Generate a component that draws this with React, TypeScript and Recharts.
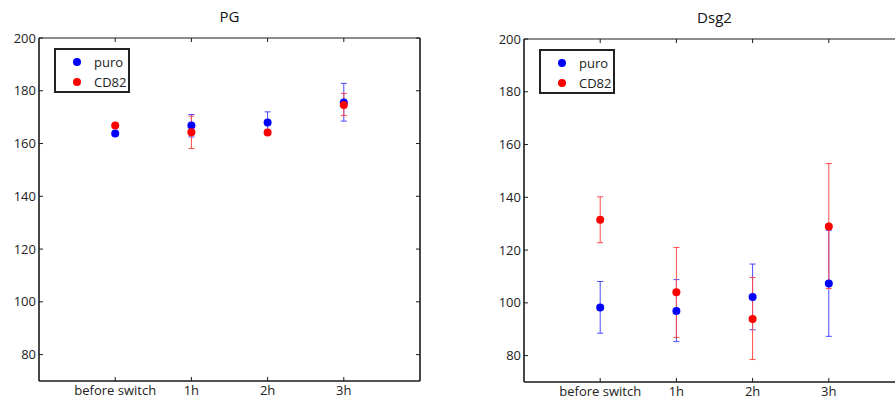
import React from 'react';
import { ScatterChart, Scatter, XAxis, YAxis, ErrorBar } from 'recharts';

// categories on the x axis and y ticks shared by both panels
const categories = ['before switch', '1h', '2h', '3h'];
const yTicks = [80, 100, 120, 140, 160, 180, 200];
const seriesNames = ['puro', 'CD82'];
const seriesColors = ['#0000ff', '#ff0000'];
const errColors = ['#4a4aff', '#ff4a4a'];

// PG panel
const pgPuro = [163.8, 166.8, 168.0, 175.6];
const pgPuroLow = [163.4, 162.5, 164.0, 168.5];
const pgPuroHigh = [164.2, 171.0, 172.0, 182.8];
const pgCd82 = [166.8, 164.3, 164.2, 174.6];
const pgCd82Low = [166.4, 158.1, 163.5, 170.6];
const pgCd82High = [167.2, 170.4, 165.0, 179.0];

// Dsg2 panel
const dsgPuro = [98.2, 96.9, 102.2, 107.3];
const dsgPuroLow = [88.5, 85.3, 89.8, 87.3];
const dsgPuroHigh = [108.1, 108.8, 114.7, 127.5];
const dsgCd82 = [131.5, 104.0, 93.9, 128.9];
const dsgCd82Low = [122.8, 86.9, 78.5, 105.4];
const dsgCd82High = [140.2, 121.0, 109.6, 152.8];

const FONT = '"Open Sans", sans-serif';
const AXIS = '#1a1a1a';
const TICK_FS = 13;

const toRows = (vals: number[], low: number[], high: number[]) =>
  vals.map((v, i) => ({ x: i + 1, y: v, err: [v - low[i], high[i] - v] }));

const BottomTick = (props: any) => {
  const { x, y, payload } = props;
  return (
    <g>
      <line x1={x} y1={y} x2={x} y2={y - 4} stroke={AXIS} strokeWidth={1} />
      <text x={x} y={y + 14} textAnchor="middle" fontSize={TICK_FS} fontFamily={FONT} fill="#222">
        {categories[payload.value - 1]}
      </text>
    </g>
  );
};

const TopTick = (props: any) => {
  const { x, y } = props;
  return <line x1={x} y1={y} x2={x} y2={y + 4} stroke={AXIS} strokeWidth={1} />;
};

const LeftTick = (props: any) => {
  const { x, y, payload } = props;
  return (
    <g>
      <line x1={x} y1={y} x2={x + 4} y2={y} stroke={AXIS} strokeWidth={1} />
      <text x={x - 3} y={y + 4.5} textAnchor="end" fontSize={TICK_FS} fontFamily={FONT} fill="#222">
        {payload.value}
      </text>
    </g>
  );
};

const RightTick = (props: any) => {
  const { x, y } = props;
  return <line x1={x} y1={y} x2={x - 4} y2={y} stroke={AXIS} strokeWidth={1} />;
};

const LegendBox = ({ left, top }: { left: number; top: number }) => (
  <div
    style={{
      position: 'absolute',
      left,
      top,
      width: 76,
      height: 45,
      boxSizing: 'border-box',
      border: '2px solid #222',
      background: '#fff',
      fontFamily: FONT,
      fontSize: TICK_FS,
      color: '#222',
      paddingTop: 2,
    }}
  >
    {seriesNames.map((name, i) => (
      <div key={name} style={{ display: 'flex', alignItems: 'center', height: 20 }}>
        <span
          style={{
            display: 'inline-block',
            width: 8,
            height: 8,
            borderRadius: 4,
            background: seriesColors[i],
            marginLeft: 17,
            marginRight: 13,
          }}
        />
        {name}
      </div>
    ))}
  </div>
);

interface PanelProps {
  title: string;
  left: number;
  top: number;
  bottom: number;
  puro: ReturnType<typeof toRows>;
  cd82: ReturnType<typeof toRows>;
}

const Panel: React.FC<PanelProps> = ({ title, left, top, bottom, puro, cd82 }) => (
  <div style={{ position: 'absolute', left, top: 0, width: 450, height: 404 }}>
    <div
      style={{
        position: 'absolute',
        left: 39,
        width: 381,
        top: top - 32,
        textAlign: 'center',
        fontFamily: FONT,
        fontSize: 15,
        color: '#111',
      }}
    >
      {title}
    </div>
    <ScatterChart width={450} height={404} margin={{ top: top - 1, right: 29, bottom: 0, left: 0 }}>
      <XAxis
        xAxisId="b"
        dataKey="x"
        type="number"
        domain={[0, 5]}
        ticks={[1, 2, 3, 4]}
        height={404 - bottom}
        tickSize={0}
        tickMargin={0}
        tickLine={false}
        tick={<BottomTick />}
        axisLine={{ stroke: AXIS, strokeWidth: 1.6 }}
        allowDataOverflow
      />
      <XAxis
        xAxisId="t"
        dataKey="x"
        orientation="top"
        type="number"
        domain={[0, 5]}
        ticks={[1, 2, 3, 4]}
        height={1}
        tickSize={0}
        tickMargin={0}
        tickLine={false}
        tick={<TopTick />}
        axisLine={{ stroke: AXIS, strokeWidth: 1.2 }}
        allowDataOverflow
      />
      <YAxis
        yAxisId="l"
        dataKey="y"
        type="number"
        domain={[70, 200]}
        ticks={yTicks}
        width={39}
        tickSize={0}
        tickMargin={0}
        tickLine={false}
        tick={<LeftTick />}
        axisLine={{ stroke: AXIS, strokeWidth: 1.6 }}
        allowDataOverflow
      />
      <YAxis
        yAxisId="r"
        dataKey="y"
        orientation="right"
        type="number"
        domain={[70, 200]}
        ticks={yTicks}
        width={1}
        tickSize={0}
        tickMargin={0}
        tickLine={false}
        tick={<RightTick />}
        axisLine={{ stroke: AXIS, strokeWidth: 1.6 }}
        allowDataOverflow
      />
      {/* frame series: keeps the top and right axes bound to the data, draws nothing */}
      <Scatter
        data={puro}
        xAxisId="t"
        yAxisId="r"
        shape={() => <g />}
        legendType="none"
        isAnimationActive={false}
      />
      <Scatter
        name={seriesNames[0]}
        data={puro}
        xAxisId="b"
        yAxisId="l"
        fill={seriesColors[0]}
        shape={(p: any) => <circle cx={p.cx} cy={p.cy} r={4} fill={seriesColors[0]} />}
        isAnimationActive={false}
      >
        <ErrorBar dataKey="err" direction="y" width={3} stroke={errColors[0]} strokeWidth={1} isAnimationActive={false} />
      </Scatter>
      <Scatter
        name={seriesNames[1]}
        data={cd82}
        xAxisId="b"
        yAxisId="l"
        fill={seriesColors[1]}
        shape={(p: any) => <circle cx={p.cx} cy={p.cy} r={4} fill={seriesColors[1]} />}
        isAnimationActive={false}
      >
        <ErrorBar dataKey="err" direction="y" width={3} stroke={errColors[1]} strokeWidth={1} isAnimationActive={false} />
      </Scatter>
    </ScatterChart>
    <LegendBox left={54} top={top + 10} />
  </div>
);

export default function App() {
  return (
    <div
      style={{
        position: 'absolute',
        left: 0,
        top: 0,
        width: 895,
        height: 404,
        overflow: 'hidden',
        background: '#fff',
      }}
    >
      <style>{'html, body { margin: 0; overflow: hidden; }'}</style>
      <Panel
        title="PG"
        left={0}
        top={38}
        bottom={381}
        puro={toRows(pgPuro, pgPuroLow, pgPuroHigh)}
        cd82={toRows(pgCd82, pgCd82Low, pgCd82High)}
      />
      <Panel
        title="Dsg2"
        left={485}
        top={39}
        bottom={382}
        puro={toRows(dsgPuro, dsgPuroLow, dsgPuroHigh)}
        cd82={toRows(dsgCd82, dsgCd82Low, dsgCd82High)}
      />
    </div>
  );
}
